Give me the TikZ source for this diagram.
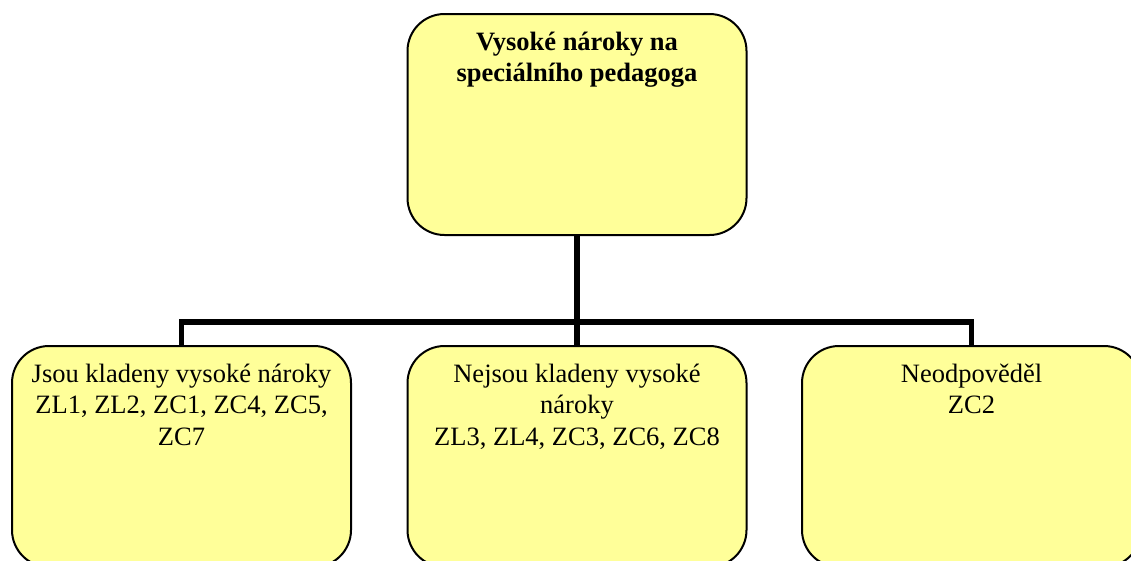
\documentclass[tikz,border=0pt]{standalone}
\usepackage{fontspec}
\setmainfont{Liberation Serif}
\usetikzlibrary{calc}
\definecolor{boxfill}{HTML}{FFFF99}
\tikzset{
  chartbox/.style={draw=black, line width=2pt, fill=boxfill, rounded corners=37pt,
    minimum width=339pt, minimum height=221pt, inner sep=0pt, outer sep=0pt},
  boxtext/.style={anchor=north, inner sep=0pt, outer sep=0pt},
  link/.style={line width=5.5pt, line join=miter}
}
% text block hung from the top edge of a box, first baseline 36pt below it
\newcommand{\boxlines}[1]{\parbox[t]{334pt}{\centering\fontsize{26.5pt}{31.7pt}\selectfont\rule{0pt}{36pt}#1}}
\begin{document}
\begin{tikzpicture}[x=1pt,y=1pt]
  \useasboundingbox (0,0) rectangle (1131,-560);
  \clip (0,0) rectangle (1131,-560);

  % boxes
  \node[chartbox] (top)   at (577,-124.5) {};
  \node[chartbox] (left)  at (181.5,-456.5) {};
  \node[chartbox] (mid)   at (577,-456.5) {};
  \node[chartbox] (right) at (971.5,-456.5) {};

  % connectors
  \coordinate (bus) at (577,-322);
  \draw[link] (top.south) -- (mid.north);
  \draw[link] (left.north) |- (bus) -| (right.north);

  % box texts
  \node[boxtext] (toptext) at (top.north)
    {\boxlines{\bfseries Vysoké nároky na\\speciálního pedagoga}};
  \node[boxtext] (lefttext) at (left.north)
    {\boxlines{Jsou kladeny vysoké nároky\\ZL1, ZL2, ZC1, ZC4, ZC5,\\ZC7}};
  \node[boxtext] (midtext) at (mid.north)
    {\boxlines{Nejsou kladeny vysoké\\nároky\\ZL3, ZL4, ZC3, ZC6, ZC8}};
  \node[boxtext] (righttext) at (right.north)
    {\boxlines{Neodpověděl\\ZC2}};
\end{tikzpicture}
\end{document}
